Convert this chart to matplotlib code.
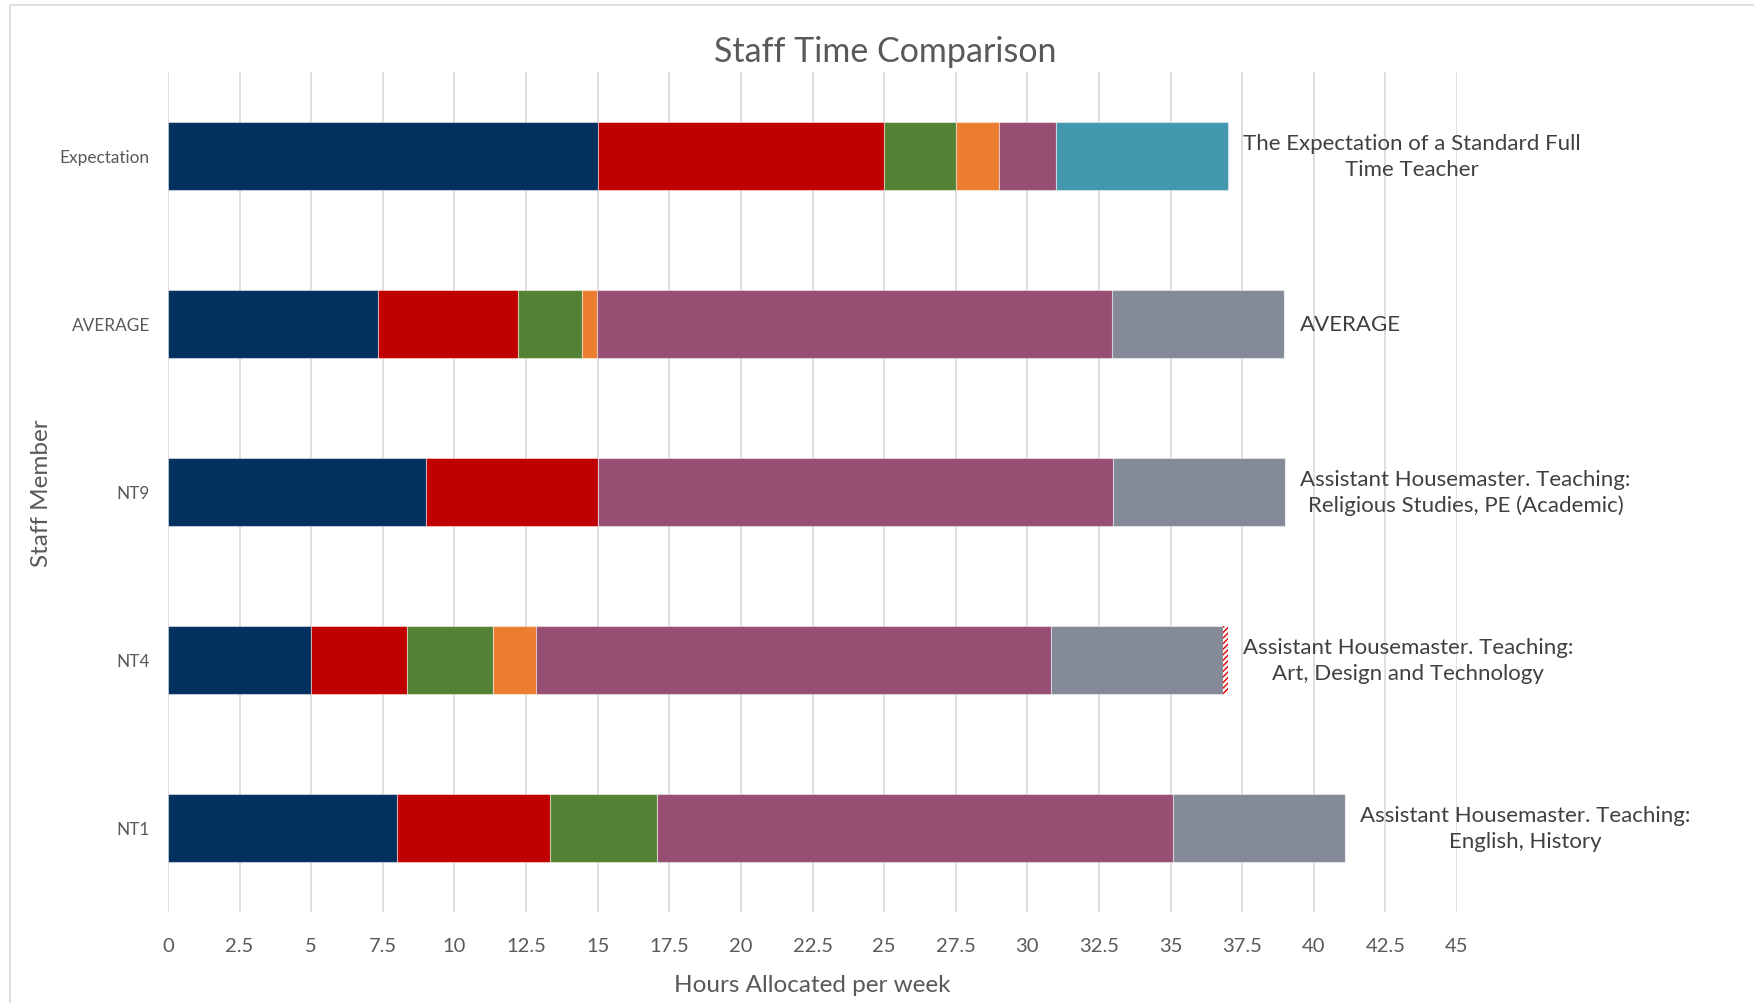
import numpy as np
import matplotlib.pyplot as plt
from matplotlib.patches import Rectangle

plt.rcParams['font.family'] = ['Lato', 'DejaVu Sans']

# categories, bottom to top as drawn by the chart
staff = ['NT1', 'NT4', 'NT9', 'AVERAGE', 'Expectation']
notes = ['Assistant Housemaster. Teaching:\nEnglish, History',
         'Assistant Housemaster. Teaching:\nArt, Design and Technology',
         'Assistant Housemaster. Teaching:\nReligious Studies, PE (Academic)',
         'AVERAGE',
         'The Expectation of a Standard Full\nTime Teacher']

# hours per week for each segment
navy   = [8.0, 5.0, 9.0, 7.33, 15.0]
red    = [5.33, 3.33, 6.0, 4.89, 10.0]
green  = [3.75, 3.0, 0.0, 2.25, 2.5]
orange = [0.0, 1.5, 0.0, 0.5, 1.5]
purple = [18.0, 18.0, 18.0, 18.0, 2.0]
grey   = [6.0, 6.0, 6.0, 6.0, 0.0]
hatched = [0.0, 0.17, 0.0, 0.0, 0.0]
teal   = [0.0, 0.0, 0.0, 0.0, 6.0]

xticks = np.arange(0, 45.1, 2.5)

fig = plt.figure(figsize=(17.54, 10.04), dpi=100)
ax = fig.add_axes([168/1754, 1 - 913/1004, (1457-168)/1754, (913-73)/1004])

# light border around the chart area
fig.patches.append(Rectangle((10/1754, -0.1), 1.2, 1 - 6/1004 + 0.1,
                             transform=fig.transFigure, fill=False,
                             edgecolor='#d9d9d9', lw=1.2))

y = np.arange(len(staff))
left = np.zeros(len(staff))
edge = (1, 1, 1, 0.45)
series = [(navy, '#03315F'), (red, '#C00000'), (green, '#548235'),
          (orange, '#ED7D31'), (purple, '#964F72'), (grey, '#858A99')]
for vals, col in series:
    ax.barh(y, vals, left=left, height=0.4, color=col, edgecolor=edge, lw=0.8, zorder=3)
    left += np.array(vals)

ax.barh(y, hatched, left=left, height=0.4, color='white', edgecolor='#E00000',
        hatch='//////', lw=0, zorder=3)
left += np.array(hatched)
ax.barh(y, teal, left=left, height=0.4, color='#4397AF', edgecolor=edge, lw=0.8, zorder=3)
left += np.array(teal)

for yi, tot, txt in zip(y, left, notes):
    ax.annotate(txt, (tot, yi), xytext=(11, 0), textcoords='offset points',
                ha='left', va='center', multialignment='center', linespacing=1.35,
                fontsize=16, color='#404040', annotation_clip=False)

ax.set_xlim(0, 45)
ax.set_ylim(-0.5, 4.5)
ax.set_xticks(xticks)
ax.set_xticklabels([('%g' % t) for t in xticks])
ax.set_yticks(y)
ax.set_yticklabels(staff)
ax.tick_params(axis='x', length=0, pad=18, labelsize=14.5, labelcolor='#595959')
ax.tick_params(axis='y', length=0, pad=13, labelsize=12.4, labelcolor='#595959')
ax.grid(axis='x', color='#d9d9d9', lw=1.2, zorder=0)
for s in ax.spines.values():
    s.set_visible(False)

ax.set_xlabel('Hours Allocated per week', fontsize=17.5, color='#595959', labelpad=14.5)
ax.set_ylabel('Staff Member', fontsize=17.5, color='#595959')
ax.yaxis.set_label_coords((52 - 168) / 1289, 0.5)
fig.text(885/1754, 1 - 52/1004, 'Staff Time Comparison', ha='center', va='center',
         fontsize=24.5, color='#595959')

fig.savefig('out.png', dpi=100)
